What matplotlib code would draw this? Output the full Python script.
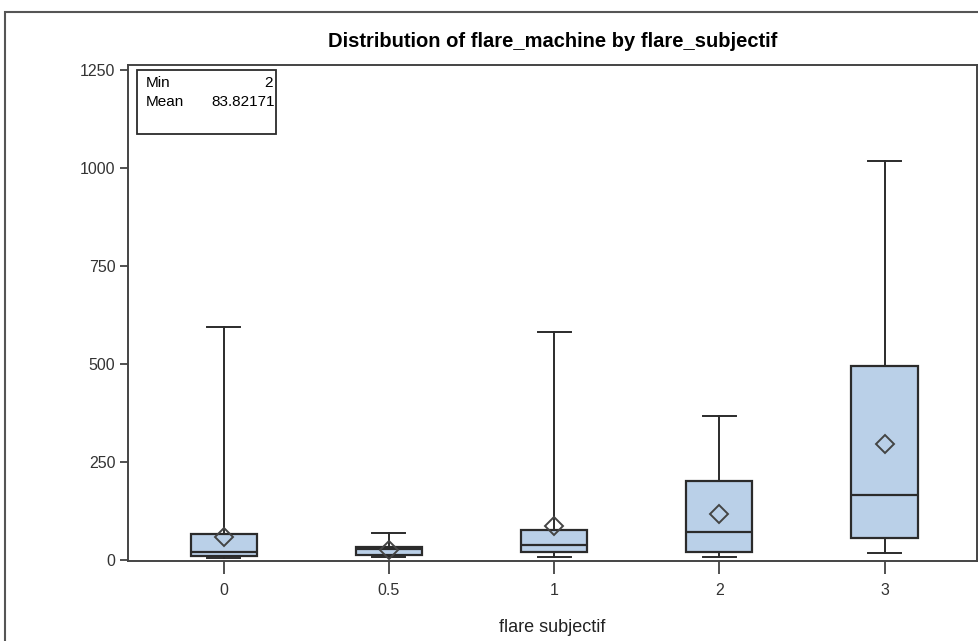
import matplotlib
matplotlib.use("Agg")
import matplotlib.pyplot as plt
from matplotlib.patches import Rectangle

# box statistics
categories = ["0", "0.5", "1", "2", "3"]
whislo = [4, 8, 8, 7, 17]
q1 = [9, 13, 20, 21, 55]
med = [20, 27, 37, 71, 166]
q3 = [67, 33, 75, 202, 494]
whishi = [594, 68, 582, 366, 1016]
means = [59, 25, 87, 117, 296]

y_ticks = [0, 250, 500, 750, 1000, 1250]
overall_min = "2"
overall_mean = "83.82171"

plt.rcParams['font.family'] = ['Liberation Sans', 'DejaVu Sans']

fig = plt.figure(figsize=(9.79, 6.41), dpi=100)
ax = fig.add_axes([128 / 979, 80 / 641, 849 / 979, 496 / 641])

stats = []
for i in range(len(categories)):
    stats.append({
        "whislo": whislo[i], "q1": q1[i], "med": med[i], "q3": q3[i],
        "whishi": whishi[i], "mean": means[i], "fliers": [],
    })

positions = list(range(len(categories)))
edge = '#2b2b2b'
ax.bxp(stats, positions=positions, widths=0.4, patch_artist=True, showmeans=True,
       boxprops=dict(facecolor='#bad0e8', edgecolor=edge, linewidth=1.6),
       medianprops=dict(color=edge, linewidth=1.6),
       whiskerprops=dict(color=edge, linewidth=1.4),
       capprops=dict(color=edge, linewidth=1.4),
       capwidths=0.2,
       meanprops=dict(marker='D', markersize=9, markerfacecolor='none',
                      markeredgecolor='#444444', markeredgewidth=1.4))

ax.set_xlim(-0.58, 4.56)
ax.set_ylim(-3, 1262)
ax.set_xticks(positions)
ax.set_xticklabels(categories)
ax.set_yticks(y_ticks)
ax.tick_params(axis='both', labelsize=11.5, colors='#333333', width=1.2)
ax.tick_params(axis='x', length=9, pad=7)
ax.tick_params(axis='y', length=6, pad=3)
for s in ax.spines.values():
    s.set_color('#444444')
    s.set_linewidth(1.4)

ax.set_xlabel("flare subjectif", fontsize=13, color='#222222', labelpad=15)
ax.set_title("Distribution of flare_machine by flare_subjectif", fontsize=14.5,
             fontweight='bold', pad=13)

# small statistics inset
ax.add_patch(Rectangle((0.0106, 0.861), 0.164, 0.129, transform=ax.transAxes,
                       facecolor='white', edgecolor=edge, linewidth=1.3, zorder=5))
ax.text(0.021, 0.977, "Min", transform=ax.transAxes, fontsize=11, va='top', zorder=6)
ax.text(0.17, 0.977, overall_min, transform=ax.transAxes, fontsize=11, va='top',
        ha='right', zorder=6)
ax.text(0.021, 0.94, "Mean", transform=ax.transAxes, fontsize=11, va='top', zorder=6)
ax.text(0.173, 0.94, overall_mean, transform=ax.transAxes, fontsize=11, va='top',
        ha='right', zorder=6)

# outer frame of the original graph
fig.add_artist(Rectangle((5 / 979, -0.05), 1.0, (641 - 12) / 641 + 0.05,
                         transform=fig.transFigure, fill=False,
                         edgecolor='#555555', linewidth=1.5))

plt.savefig("out.png", dpi=100)
